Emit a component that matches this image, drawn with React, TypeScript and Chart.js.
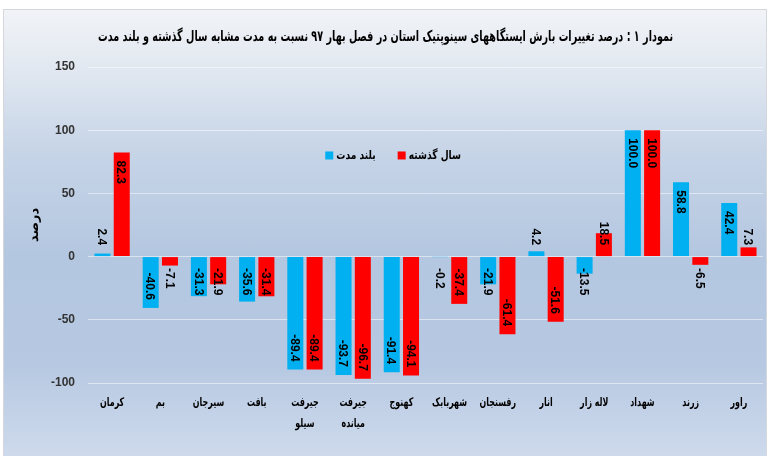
import React, { useEffect, useRef } from "react";
import { Chart, registerables } from "chart.js";

Chart.register(...registerables);

const titleText =
  "نمودار ۱ : درصد تغییرات بارش ایستگاههای سینوپتیک استان در فصل بهار ۹۷ نسبت به مدت مشابه سال گذشته و بلند مدت";
const yAxisTitle = "درصد";

const categories: (string | string[])[] = [
  "کرمان",
  "بم",
  "سیرجان",
  "بافت",
  ["جیرفت", "سیلو"],
  ["جیرفت", "میانده"],
  "کهنوج",
  "شهربابک",
  "رفسنجان",
  "انار",
  "لاله زار",
  "شهداد",
  "زرند",
  "راور",
];

const seriesNames = ["بلند مدت", "سال گذشته"];
const seriesColors = ["#00b0f0", "#ff0000"];

const longTerm = [2.4, -40.6, -31.3, -35.6, -89.4, -93.7, -91.4, -0.2, -21.9, 4.2, -13.5, 100.0, 58.8, 42.4];
const lastYear = [82.3, -7.1, -21.9, -31.4, -89.4, -96.7, -94.1, -37.4, -61.4, -51.6, 18.5, 100.0, -6.5, 7.3];

const yMin = -100;
const yMax = 150;
const yStep = 50;

const persianFont = '"DejaVu Sans", "Noto Sans", sans-serif';
const numberFont = '"Liberation Sans", Arial, sans-serif';

function drawCompressed(
  ctx: CanvasRenderingContext2D,
  text: string,
  x: number,
  y: number,
  sx: number,
  align: CanvasTextAlign
) {
  ctx.save();
  ctx.translate(x, y);
  ctx.scale(sx, 1);
  ctx.textAlign = align;
  ctx.fillText(text, 0, 0);
  ctx.restore();
}

const titleDraw = {
  id: "titleDraw",
  afterDraw(chart: any) {
    const ctx = chart.ctx as CanvasRenderingContext2D;
    ctx.save();
    ctx.font = `bold 15px ${persianFont}`;
    ctx.fillStyle = "#000";
    ctx.textBaseline = "middle";
    const w = ctx.measureText(titleText).width;
    const sx = Math.min(1, 575 / w);
    drawCompressed(ctx, titleText, chart.width / 2, 37, sx, "center");
    ctx.restore();
  },
};

const xLabels = {
  id: "xLabels",
  afterDraw(chart: any) {
    const ctx = chart.ctx as CanvasRenderingContext2D;
    const xs = chart.scales.x;
    const area = chart.chartArea;
    ctx.save();
    ctx.font = `bold 12px ${persianFont}`;
    ctx.fillStyle = "#000";
    ctx.textBaseline = "middle";
    categories.forEach((c, i) => {
      const lines = Array.isArray(c) ? c : [c];
      const x = xs.getPixelForValue(i);
      lines.forEach((ln, li) => {
        drawCompressed(ctx, ln, x, area.bottom + 20 + li * 21, 0.66, "center");
      });
    });
    ctx.restore();
  },
};

const valueLabels = {
  id: "valueLabels",
  afterDatasetsDraw(chart: any) {
    const ctx = chart.ctx as CanvasRenderingContext2D;
    ctx.save();
    ctx.font = `bold 12px ${numberFont}`;
    ctx.fillStyle = "#000";
    ctx.textBaseline = "middle";
    ctx.textAlign = "left";
    chart.data.datasets.forEach((ds: any, di: number) => {
      const meta = chart.getDatasetMeta(di);
      meta.data.forEach((el: any, i: number) => {
        const v = ds.data[i] as number;
        const txt = v.toFixed(1);
        const w = ctx.measureText(txt).width;
        const { x, y, base } = el.getProps(["x", "y", "base"], true);
        let start: number;
        if (v >= 0) start = Math.min(y + 8, base - 11 - w);
        else start = Math.max(y - 8 - w, base + 11);
        ctx.save();
        ctx.translate(x, start);
        ctx.rotate(Math.PI / 2);
        ctx.fillText(txt, 0, 1);
        ctx.restore();
      });
    });
    ctx.restore();
  },
};

const innerLegend = {
  id: "innerLegend",
  afterDraw(chart: any) {
    const ctx = chart.ctx as CanvasRenderingContext2D;
    const area = chart.chartArea;
    const sx = 0.76;
    ctx.save();
    ctx.font = `bold 12px ${persianFont}`;
    ctx.textBaseline = "middle";
    const box = 8;
    const gapBoxText = 3;
    const gapItems = 22;
    const items = chart.data.datasets.map((ds: any) => ({
      text: ds.label as string,
      color: ds.backgroundColor as string,
      w: ctx.measureText(ds.label).width * sx,
    }));
    const total =
      items.reduce((s: number, it: any) => s + box + gapBoxText + it.w, 0) + gapItems * (items.length - 1);
    let x = area.left + area.width * 0.452 - total / 2;
    const y = area.top + area.height * 0.28;
    items.forEach((it: any) => {
      ctx.fillStyle = it.color;
      ctx.fillRect(x, y - box / 2, box, box);
      x += box + gapBoxText;
      ctx.fillStyle = "#000";
      drawCompressed(ctx, it.text, x, y, sx, "left");
      x += it.w + gapItems;
    });
    ctx.restore();
  },
};

export default function App() {
  const canvasRef = useRef<HTMLCanvasElement>(null);

  useEffect(() => {
    if (!canvasRef.current) return;
    const chart = new Chart(canvasRef.current, {
      type: "bar",
      data: {
        labels: categories,
        datasets: [
          {
            label: seriesNames[0],
            data: longTerm,
            backgroundColor: seriesColors[0],
            borderWidth: 0,
            categoryPercentage: 0.8,
            barPercentage: 0.83,
          },
          {
            label: seriesNames[1],
            data: lastYear,
            backgroundColor: seriesColors[1],
            borderWidth: 0,
            categoryPercentage: 0.8,
            barPercentage: 0.83,
          },
        ],
      },
      options: {
        responsive: false,
        animation: false,
        devicePixelRatio: 1,
        layout: { padding: { left: 0, right: 8, top: 67, bottom: 0 } },
        plugins: {
          legend: { display: false },
          tooltip: { enabled: false },
          title: { display: false },
        },
        scales: {
          x: {
            grid: { display: false, drawTicks: false },
            border: { display: false },
            ticks: { display: false },
            afterFit: (scale: any) => {
              scale.height = 73;
            },
          },
          y: {
            min: yMin,
            max: yMax,
            grid: { color: "rgba(255,255,255,0.5)", lineWidth: 1, drawTicks: false },
            border: { display: false },
            ticks: {
              stepSize: yStep,
              color: "#333",
              font: { family: numberFont, size: 12, weight: "bold" },
              padding: 13,
            },
            title: {
              display: true,
              text: yAxisTitle,
              color: "#000",
              font: { family: persianFont, size: 13, weight: "bold" },
              padding: { top: 27, bottom: 0 },
            },
            afterFit: (scale: any) => {
              scale.width = 88;
            },
          },
        },
      },
      plugins: [valueLabels, innerLegend, xLabels, titleDraw],
    });
    return () => chart.destroy();
  }, []);

  return (
    <div style={{ position: "absolute", left: 0, top: 0, width: 771, height: 456, background: "#fff", overflow: "hidden" }}>
      <div
        style={{
          position: "absolute",
          left: 3,
          top: 9,
          width: 764,
          height: 447,
          boxSizing: "border-box",
          borderTop: "1px solid #d4d7dc",
          borderLeft: "1px solid #d4d7dc",
          borderRight: "1px solid #d4d7dc",
          background:
            "linear-gradient(to bottom, #f1f3f7 0%, #e3e9f1 12%, #c6d4e7 32%, #b4c7e0 55%, #b7c9e2 80%, #cedaec 100%)",
        }}
      />
      <canvas ref={canvasRef} width={771} height={456} style={{ position: "absolute", left: 0, top: 0, display: "block" }} />
    </div>
  );
}
